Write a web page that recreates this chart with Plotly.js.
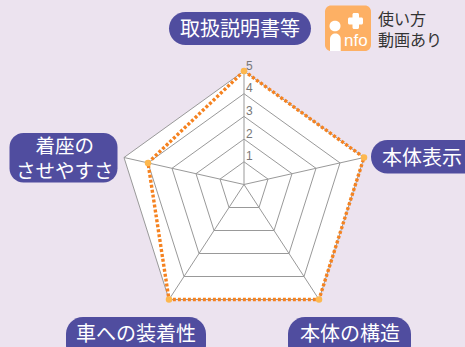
<!DOCTYPE html>
<html><head><meta charset="utf-8">
<script src="https://cdn.plot.ly/plotly-3.0.1.min.js"></script>
<style>html,body{margin:0;padding:0;background:#ece3ef;overflow:hidden}#c{width:465px;height:347px}</style>
</head><body><div id="c"></div>
<script>
const categories = ["取扱説明書等","本体表示","本体の構造","車への装着性","着座の<br>させやすさ"];
const values = [5,5,5,5,4];
const levels = [1,2,3,4,5];
const tickLabels = ["1","2","3","4","5"];
const spokeX = [0,24,15,-15,-24];
const spokeY = [-22.7,-5.4,23,23,-5.4];
const cx = 244, cy = 184.5;
const FONT = '"Liberation Sans","Noto Sans CJK JP",sans-serif';
const BG='#ece3ef', PILL='#504d9f', ORANGE='#f58220', GRID='#999999', ICON='#fdb064';

const px = (i,v)=>cx+spokeX[i]*v, py=(i,v)=>cy+spokeY[i]*v;
const ring = v=>{const idx=[0,1,2,3,4,0];return {x:idx.map(i=>px(i,v)),y:idx.map(i=>py(i,v))};};
const traces=[];
const outer=ring(5);
traces.push({type:'scatter',mode:'lines',x:outer.x,y:outer.y,fill:'toself',fillcolor:'#ffffff',line:{color:GRID,width:1},hoverinfo:'skip',showlegend:false});
levels.slice(0,4).forEach(l=>{const r=ring(l);traces.push({type:'scatter',mode:'lines',x:r.x,y:r.y,line:{color:GRID,width:1},hoverinfo:'skip',showlegend:false});});
spokeX.forEach((_,i)=>traces.push({type:'scatter',mode:'lines',x:[cx,px(i,5)],y:[cy,py(i,5)],line:{color:GRID,width:1},hoverinfo:'skip',showlegend:false}));
const di=[0,1,2,3,4,0];
traces.push({type:'scatter',mode:'lines',x:di.map(i=>px(i,values[i])),y:di.map(i=>py(i,values[i])),line:{color:ORANGE,width:3.4,dash:'3px,2px'},showlegend:false,name:'評価'});
traces.push({type:'scatter',mode:'markers',x:values.map((v,i)=>px(i,v)),y:values.map((v,i)=>py(i,v)),marker:{color:'#fdb84f',size:6.5},showlegend:false,hoverinfo:'skip'});

const rr=(x0,y0,x1,y1,r)=>{const k=r*0.45;return `M${x0+r},${y0}L${x1-r},${y0}C${x1-k},${y0} ${x1},${y0+k} ${x1},${y0+r}L${x1},${y1-r}C${x1},${y1-k} ${x1-k},${y1} ${x1-r},${y1}L${x0+r},${y1}C${x0+k},${y1} ${x0},${y1-k} ${x0},${y1-r}L${x0},${y0+r}C${x0},${y0+k} ${x0+k},${y0} ${x0+r},${y0}Z`;};
const sh=(path,fill)=>({type:'path',path,fillcolor:fill,line:{width:0},layer:'below',xref:'x',yref:'y'});
const shapes=[
 sh(rr(169,12,311,45,16.5),PILL),
 sh(rr(371,140,480,173.5,16.5),PILL),
 sh(rr(9.5,133,117.5,182.5,14),PILL),
 sh(rr(66,317,206,362,17),PILL),
 sh(rr(288,317,411,362,17),PILL),
 sh(rr(325,5.5,371,51,6),ICON),
 sh(rr(348,17.5,363,24.5,1.5),'#fff'),
 sh(rr(352.5,13,359,29,1.5),'#fff'),
 sh('M329.5,26 C329.5,19 340.5,19 340.5,26 C340.5,33 329.5,33 329.5,26 Z','#fff'),
 sh('M330,51 L330,39 C330,31.5 340.7,31.5 340.7,39 L340.7,51 Z','#fff')
];
const ann=(x,y,text,size,color,anchor)=>({x,y,xref:'x',yref:'y',text,showarrow:false,xanchor:anchor||'center',yanchor:'middle',align:anchor||'center',font:{family:FONT,size,color}});
const annotations=[
 ann(240,29,categories[0],20,'#fff'),
 ann(421.5,158,categories[1],20,'#fff'),
 ann(349.5,333.5,categories[2],20,'#fff'),
 ann(135.5,333.5,categories[3],20,'#fff'),
 ann(65,158.5,categories[4],19.5,'#fff'),
 ann(355.5,40,'nfo',17,'#fff'),
 ann(376,29.5,'使い方<br>動画あり',16,'#333','left')
];
levels.forEach((l,i)=>annotations.push(ann(249,py(0,l)-5.5,tickLabels[i],12,'#777777')));
Plotly.newPlot('c',traces,{
 width:465,height:347,margin:{l:0,r:0,t:0,b:0},paper_bgcolor:BG,plot_bgcolor:BG,
 xaxis:{range:[0,465],visible:false,fixedrange:true},
 yaxis:{range:[347,0],visible:false,fixedrange:true},
 shapes,annotations,showlegend:false
},{displayModeBar:false,staticPlot:true});
</script></body></html>
